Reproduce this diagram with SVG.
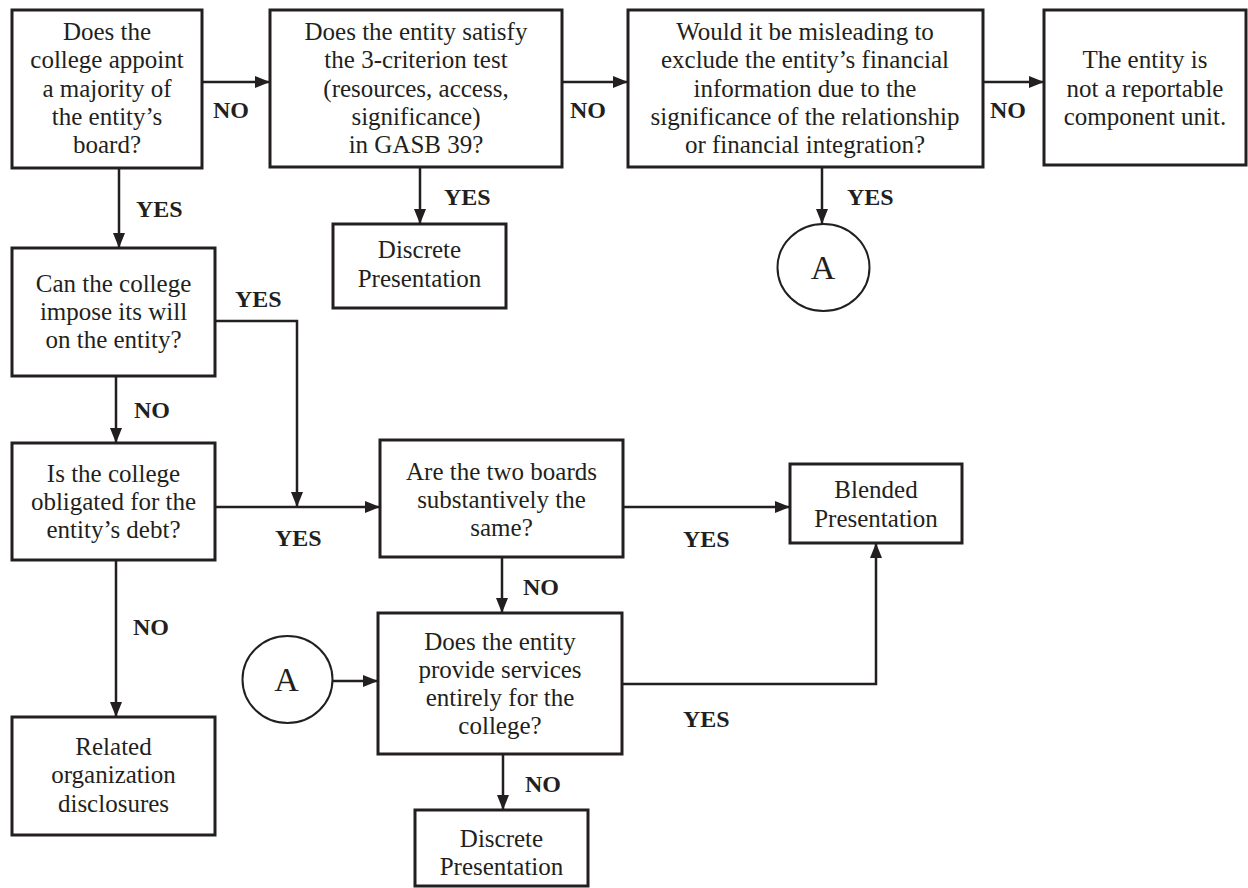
<svg xmlns="http://www.w3.org/2000/svg" width="1248" height="888" viewBox="0 0 1248 888">
<style>
.box{fill:#fff;stroke:#231f20;stroke-width:3}
.t{font-family:"Liberation Serif","Times New Roman",serif;font-size:25px;fill:#231f20;text-anchor:middle}
.big{font-family:"Liberation Serif","Times New Roman",serif;font-size:34px;fill:#231f20;text-anchor:middle}
.lbl{font-family:"Liberation Serif","Times New Roman",serif;font-size:24px;font-weight:bold;fill:#231f20}
.c{fill:none;stroke:#231f20;stroke-width:2.5;marker-end:url(#ah)}
.cn{fill:none;stroke:#231f20;stroke-width:2.5}
.circ{fill:#fff;stroke:#231f20;stroke-width:2}
</style>
<defs>
<marker id="ah" markerUnits="userSpaceOnUse" markerWidth="16" markerHeight="12" refX="15" refY="6" orient="auto">
<path d="M0,0 L15,6 L0,12 z" fill="#231f20"/>
</marker>
</defs>
<rect width="1248" height="888" fill="#fff"/>

<g id="connectors">
<path class="c" d="M202,82 H270"/>
<path class="c" d="M562,82 H628"/>
<path class="c" d="M983,82 H1044"/>
<path class="c" d="M119,168 V248"/>
<path class="c" d="M420,167 V224"/>
<path class="c" d="M822,167 V224"/>
<path class="c" d="M116,376 V443"/>
<path class="c" d="M215,321 H297 V507"/>
<path class="c" d="M215,507 H380"/>
<path class="c" d="M116,560 V717"/>
<path class="c" d="M623,507 H790"/>
<path class="c" d="M502,557 V613"/>
<path class="c" d="M333,681 H378"/>
<path class="c" d="M622,684 H876 V543"/>
<path class="c" d="M503,754 V810"/>
<g id="labels">
<text class="lbl" x="213" y="118">NO</text>
<text class="lbl" x="570" y="118">NO</text>
<text class="lbl" x="990" y="118">NO</text>
<text class="lbl" x="136" y="217">YES</text>
<text class="lbl" x="444" y="205">YES</text>
<text class="lbl" x="847" y="205">YES</text>
<text class="lbl" x="235" y="307">YES</text>
<text class="lbl" x="134" y="418">NO</text>
<text class="lbl" x="275" y="546">YES</text>
<text class="lbl" x="683" y="547">YES</text>
<text class="lbl" x="523" y="595">NO</text>
<text class="lbl" x="133" y="635">NO</text>
<text class="lbl" x="683" y="727">YES</text>
<text class="lbl" x="525" y="792">NO</text>
</g>
</g>

<g id="n1">
<rect class="box" x="12" y="10" width="190" height="158"/>
<text class="t" x="107" y="40">Does the</text>
<text class="t" x="107" y="68">college appoint</text>
<text class="t" x="107" y="97">a majority of</text>
<text class="t" x="107" y="125">the entity’s</text>
<text class="t" x="107" y="153">board?</text>
</g>
<g id="n2">
<rect class="box" x="270" y="10" width="292" height="157"/>
<text class="t" x="416" y="40">Does the entity satisfy</text>
<text class="t" x="416" y="68">the 3-criterion test</text>
<text class="t" x="416" y="97">(resources, access,</text>
<text class="t" x="416" y="125">significance)</text>
<text class="t" x="416" y="153">in GASB 39?</text>
</g>
<g id="n3">
<rect class="box" x="628" y="10" width="355" height="157"/>
<text class="t" x="805" y="40">Would it be misleading to</text>
<text class="t" x="805" y="68">exclude the entity’s financial</text>
<text class="t" x="805" y="97">information due to the</text>
<text class="t" x="805" y="125">significance of the relationship</text>
<text class="t" x="805" y="153">or financial integration?</text>
</g>
<g id="n4">
<rect class="box" x="1044" y="10" width="202" height="155"/>
<text class="t" x="1145" y="68">The entity is</text>
<text class="t" x="1145" y="97">not a reportable</text>
<text class="t" x="1145" y="125">component unit.</text>
</g>
<g id="n5">
<rect class="box" x="333" y="224" width="173" height="84"/>
<text class="t" x="419.5" y="258">Discrete</text>
<text class="t" x="419.5" y="287">Presentation</text>
</g>
<g id="connA1">
<ellipse class="circ" cx="823.5" cy="267.5" rx="46" ry="43.5"/>
<text class="big" x="823" y="279">A</text>
</g>
<g id="n6">
<rect class="box" x="12" y="248" width="203" height="128"/>
<text class="t" x="113.5" y="292">Can the college</text>
<text class="t" x="113.5" y="320">impose its will</text>
<text class="t" x="113.5" y="348">on the entity?</text>
</g>
<g id="n7">
<rect class="box" x="12" y="443" width="203" height="117"/>
<text class="t" x="113.5" y="482">Is the college</text>
<text class="t" x="113.5" y="510">obligated for the</text>
<text class="t" x="113.5" y="538">entity’s debt?</text>
</g>
<g id="n8">
<rect class="box" x="380" y="440" width="243" height="117"/>
<text class="t" x="501.5" y="480">Are the two boards</text>
<text class="t" x="501.5" y="508">substantively the</text>
<text class="t" x="501.5" y="536">same?</text>
</g>
<g id="n9">
<rect class="box" x="790" y="464" width="172" height="79"/>
<text class="t" x="876" y="498">Blended</text>
<text class="t" x="876" y="527">Presentation</text>
</g>
<g id="connA2">
<ellipse class="circ" cx="287.5" cy="679.5" rx="45" ry="43.5"/>
<text class="big" x="286.5" y="691">A</text>
</g>
<g id="n10">
<rect class="box" x="378" y="613" width="244" height="141"/>
<text class="t" x="500" y="650">Does the entity</text>
<text class="t" x="500" y="678">provide services</text>
<text class="t" x="500" y="706">entirely for the</text>
<text class="t" x="500" y="734">college?</text>
</g>
<g id="n11">
<rect class="box" x="12" y="717" width="203" height="118"/>
<text class="t" x="113.5" y="755">Related</text>
<text class="t" x="113.5" y="783">organization</text>
<text class="t" x="113.5" y="812">disclosures</text>
</g>
<g id="n12">
<rect class="box" x="415" y="810" width="173" height="76"/>
<text class="t" x="501.5" y="847">Discrete</text>
<text class="t" x="501.5" y="875">Presentation</text>
</g>
</svg>
